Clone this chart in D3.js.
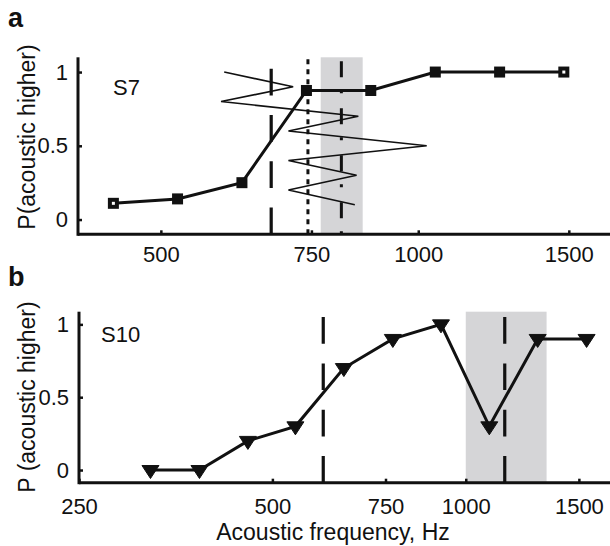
<!doctype html>
<html lang="en">
<head>
<meta charset="utf-8">
<title>P(acoustic higher) vs acoustic frequency</title>
<style>
  body { margin: 0; background: #fff; }
  text { font-family: "Liberation Sans", Arial, Helvetica, sans-serif; fill: #111; }
</style>
</head>
<body>
<div id="chart"></div>
<script src="https://cdn.jsdelivr.net/npm/d3@7/dist/d3.min.js"></script>
<script>

// ---- data ----
// panel a, subject S7 (squares)
const freqA = [440, 523, 622, 740, 880, 1047, 1245, 1480];
const probA = [0.11, 0.14, 0.25, 0.875, 0.875, 1, 1, 1];
// thin zigzag track drawn inside panel a
const trackFreqA = [593, 714, 588, 851, 705, 1023, 705, 847, 705, 843];
const trackProbA = [1.0, 0.9, 0.8, 0.7, 0.6, 0.5, 0.4, 0.3, 0.2, 0.1];
const bandA = [769, 861];
const dashedA = 673;
const dottedA = 743;
const dashDotA = 813;

// panel b, subject S10 (down triangles)
const freqB = [323, 385, 458, 543, 646, 770, 915, 1088, 1294, 1542];
const probB = [0, 0, 0.2, 0.3, 0.7, 0.9, 1, 0.3, 0.9, 0.9];
const bandB = [1000, 1336];
const dashedB = [600, 1150];

const xTicksA = [500, 750, 1000, 1500];
const xTicksB = [250, 500, 750, 1000, 1500];
const yTicks = [0, 0.5, 1];

// ---- setup ----
const width = 610, height = 546;
const ink = "#111";

const svg = d3.select("#chart").append("svg")
    .attr("width", width)
    .attr("height", height)
    .attr("viewBox", "0 0 " + width + " " + height);

svg.append("rect").attr("width", width).attr("height", height).attr("fill", "#fff");

// scales (log frequency axis)
const xA = d3.scaleLog().domain([400, 1676]).range([78, 610]);
const yA = d3.scaleLinear().domain([-0.1, 1.1]).range([234.3, 57.3]);

const xB = d3.scaleLog().domain([250, 1677]).range([79, 610]);
const yB = d3.scaleLinear().domain([-0.087, 1.087]).range([482.7, 311.7]);

function drawAxes(g, x, y, xTicks, xPad) {
    const x0 = x.range()[0], yBot = y.range()[0], yTop = y.range()[1];

    const xAxis = g.append("g")
        .attr("transform", "translate(0," + yBot + ")")
        .call(d3.axisBottom(x).tickValues(xTicks).tickSize(-4).tickPadding(xPad).tickFormat(d3.format("d")));
    const yAxis = g.append("g")
        .attr("transform", "translate(" + x0 + ",0)")
        .call(d3.axisLeft(y).tickValues(yTicks).tickSize(-4).tickPadding(10).tickFormat(d => String(d)));

    [xAxis, yAxis].forEach(a => {
        a.select(".domain").remove();
        a.selectAll(".tick line").attr("stroke", ink).attr("stroke-width", 2.5);
        a.selectAll(".tick text")
            .attr("fill", ink)
            .style("font-size", "22px")
            .style("font-family", "'Liberation Sans', Arial, sans-serif");
    });

    // axis lines drawn by hand so they are thick and the x line runs off the edge
    g.append("line")
        .attr("x1", x0).attr("x2", x.range()[1])
        .attr("y1", yBot).attr("y2", yBot)
        .attr("stroke", ink).attr("stroke-width", 3);
    g.append("line")
        .attr("x1", x0).attr("x2", x0)
        .attr("y1", yTop).attr("y2", yBot + 1.5)
        .attr("stroke", ink).attr("stroke-width", 3);
}

function band(g, x, y, lims) {
    g.append("rect")
        .attr("x", x(lims[0]))
        .attr("width", x(lims[1]) - x(lims[0]))
        .attr("y", y.range()[1])
        .attr("height", y.range()[0] - y.range()[1])
        .attr("fill", "#d5d5d7");
}

function vline(g, x, y, f, dash, w) {
    g.append("line")
        .attr("x1", x(f)).attr("x2", x(f))
        .attr("y1", y.range()[0]).attr("y2", y.range()[1])
        .attr("stroke", ink)
        .attr("stroke-width", w)
        .attr("stroke-dasharray", dash);
}

// ================= panel a =================
const gA = svg.append("g");

band(gA, xA, yA, bandA);
vline(gA, xA, yA, dashedA, "26.7,19.6", 3.2);
vline(gA, xA, yA, dottedA, "5,5", 3);
vline(gA, xA, yA, dashDotA, "3,13,16,15", 3);

// zigzag track
const trackA = trackFreqA.map((f, i) => [f, trackProbA[i]]);
gA.append("path")
    .datum(trackA)
    .attr("fill", "none")
    .attr("stroke", ink)
    .attr("stroke-width", 1.6)
    .attr("stroke-linejoin", "miter")
    .attr("d", d3.line().x(d => xA(d[0])).y(d => yA(d[1])));

drawAxes(gA, xA, yA, xTicksA, 12);

const ptsA = freqA.map((f, i) => [f, probA[i]]);
gA.append("path")
    .datum(ptsA)
    .attr("fill", "none")
    .attr("stroke", ink)
    .attr("stroke-width", 3)
    .attr("d", d3.line().x(d => xA(d[0])).y(d => yA(d[1])));

gA.selectAll("rect.sq")
    .data(ptsA)
    .enter()
    .append("rect")
    .attr("class", "sq")
    .attr("x", d => xA(d[0]) - 5.5)
    .attr("y", d => yA(d[1]) - 5.5)
    .attr("width", 11)
    .attr("height", 11)
    .attr("fill", ink);

// the end squares have a small light centre
gA.selectAll("rect.dot")
    .data([ptsA[0], ptsA[ptsA.length - 1]])
    .enter()
    .append("rect")
    .attr("class", "dot")
    .attr("x", d => xA(d[0]) - 1.5)
    .attr("y", d => yA(d[1]) - 1.5)
    .attr("width", 3)
    .attr("height", 3)
    .attr("fill", "#fff");

gA.append("text").attr("x", 113).attr("y", 95).style("font-size", "22px").text("S7");

// ================= panel b =================
const gB = svg.append("g");

band(gB, xB, yB, bandB);
dashedB.forEach(f => vline(gB, xB, yB, f, "26.7,19.6", 3.2));

drawAxes(gB, xB, yB, xTicksB, 16);

const ptsB = freqB.map((f, i) => [f, probB[i]]);
gB.append("path")
    .datum(ptsB)
    .attr("fill", "none")
    .attr("stroke", ink)
    .attr("stroke-width", 3)
    .attr("d", d3.line().x(d => xB(d[0])).y(d => yB(d[1])));

gB.selectAll("path.tri")
    .data(ptsB)
    .enter()
    .append("path")
    .attr("class", "tri")
    .attr("transform", d => "translate(" + xB(d[0]) + "," + yB(d[1]) + ")")
    .attr("d", "M-8.5,-4.5L8.5,-4.5L0,8.5Z")
    .attr("fill", ink)
    .attr("stroke", ink)
    .attr("stroke-width", 1);

gB.append("text").attr("x", 101).attr("y", 341.5).style("font-size", "22px").text("S10");

// ================= labels =================
svg.append("text")
    .attr("transform", "translate(35,137) rotate(-90)")
    .attr("text-anchor", "middle")
    .style("font-size", "23px")
    .text("P(acoustic higher)");

svg.append("text")
    .attr("transform", "translate(35,397) rotate(-90)")
    .attr("text-anchor", "middle")
    .style("font-size", "23px")
    .text("P (acoustic higher)");

svg.append("text")
    .attr("x", 333)
    .attr("y", 540)
    .attr("text-anchor", "middle")
    .style("font-size", "23px")
    .text("Acoustic frequency, Hz");

svg.append("text")
    .attr("x", 8).attr("y", 27)
    .style("font-size", "27px").style("font-weight", "bold")
    .text("a");

svg.append("text")
    .attr("x", 8).attr("y", 286)
    .style("font-size", "27px").style("font-weight", "bold")
    .text("b");

</script>
</body>
</html>
